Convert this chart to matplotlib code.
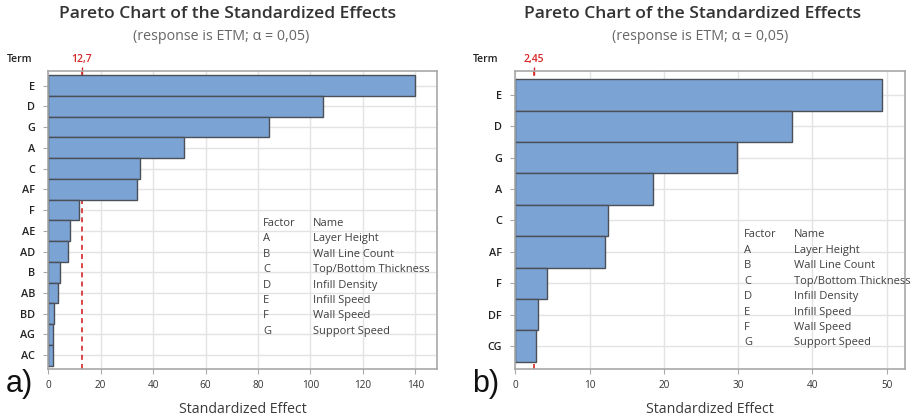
import matplotlib
matplotlib.use("Agg")
import matplotlib.pyplot as plt

plt.rcParams['font.family'] = ['Open Sans', 'DejaVu Sans']

# left chart: all effects
terms_a = ["E", "D", "G", "A", "C", "AF", "F", "AE", "AD", "B", "AB", "BD", "AG", "AC"]
effects_a = [140.0, 105.0, 84.2, 51.9, 35.1, 33.7, 11.8, 8.3, 7.4, 4.5, 3.6, 2.1, 1.7, 1.8]
limit_a = 12.7
limit_a_label = "12,7"

# right chart: reduced model
terms_b = ["E", "D", "G", "A", "C", "AF", "F", "DF", "CG"]
effects_b = [49.4, 37.2, 29.8, 18.5, 12.5, 12.1, 4.2, 3.0, 2.75]
limit_b = 2.45
limit_b_label = "2,45"

factors = ["A", "B", "C", "D", "E", "F", "G"]
factor_names = ["Layer Height", "Wall Line Count", "Top/Bottom Thickness",
                "Infill Density", "Infill Speed", "Wall Speed", "Support Speed"]

title = "Pareto Chart of the Standardized Effects"
subtitle = "(response is ETM; \u03b1 = 0,05)"

W, H = 916, 418
BAR = "#7ba3d4"
EDGE = "#4b4f57"
GRID = "#e3e3e3"
SPINE = "#a8a8a8"
RED = "#d62728"
LEG = 8.0

fig = plt.figure(figsize=(W / 100, H / 100), dpi=100)


def px_axes(x0, x1, y0, y1):
    return fig.add_axes([x0 / W, 1 - y1 / H, (x1 - x0) / W, (y1 - y0) / H])


def pareto(ax, terms, effects, limit, limit_label, xmax, xticks, pad_top, pad_bot,
           leg_x, leg_y):
    n = len(terms)
    pos = list(range(n))
    ax.axvline(limit, color=RED, lw=1.2, ls=(0, (3, 2.5)), zorder=1)
    ax.barh(pos, effects, height=1.0, color=BAR, edgecolor=EDGE, lw=1.0, zorder=2)
    ax.set_xlim(0, xmax)
    ax.set_ylim(n - 1 + pad_bot, -pad_top)
    ax.set_yticks(pos)
    ax.set_yticklabels(terms, fontsize=7.8, color="#222", fontweight="semibold")
    ax.set_xticks(xticks)
    ax.set_xticklabels([str(t) for t in xticks], fontsize=7.2, color="#333")
    ax.grid(True, color=GRID, lw=1.0, zorder=0)
    ax.set_axisbelow(True)
    for s in ax.spines.values():
        s.set_color(SPINE)
        s.set_linewidth(1.2)
    ax.tick_params(axis="both", direction="out", length=3.5, color=SPINE, width=0.8)
    ax.tick_params(axis="x", pad=4)
    ax.tick_params(axis="y", pad=6)
    ax.set_xlabel("Standardized Effect", fontsize=10.2, color="#3a3a3a", labelpad=8)

    top = ax.secondary_xaxis("top")
    top.set_xticks([limit])
    top.set_xticklabels([limit_label], fontsize=7.5, color=RED, fontweight="semibold")
    top.tick_params(direction="inout", length=6, color=RED, width=1.0, pad=1)
    top.spines["top"].set_visible(False)

    ax.text(leg_x[0], leg_y, "Factor", transform=ax.transAxes, fontsize=LEG,
            color="#404040", va="center")
    ax.text(leg_x[1], leg_y, "Name", transform=ax.transAxes, fontsize=LEG,
            color="#404040", va="center")
    step = 0.0517
    for i, (f, name) in enumerate(zip(factors, factor_names)):
        y = leg_y - step * (i + 1)
        ax.text(leg_x[0], y, f, transform=ax.transAxes, fontsize=LEG,
                color="#404040", va="center")
        ax.text(leg_x[1], y, name, transform=ax.transAxes, fontsize=LEG,
                color="#404040", va="center")


ax_a = px_axes(48.3, 436.7, 70.7, 369.3)
pareto(ax_a, terms_a, effects_a, limit_a, limit_a_label, 148.2,
       [0, 20, 40, 60, 80, 100, 120, 140], 0.72, 0.68, (0.553, 0.681), 0.489)

ax_b = px_axes(515.3, 905.3, 70.7, 369.3)
pareto(ax_b, terms_b, effects_b, limit_b, limit_b_label, 52.5,
       [0, 10, 20, 30, 40, 50], 0.77, 0.74, (0.587, 0.715), 0.45)

# titles and panel labels
for cx, scx, tx in [(228, 221, 19.5), (693, 700, 486)]:
    fig.text(cx / W, 1 - 14 / H, title, ha="center", va="center",
             fontsize=12.6, color="#333", fontweight="semibold")
    fig.text(scx / W, 1 - 36 / H, subtitle, ha="center", va="center",
             fontsize=10.3, color="#666")
    fig.text(tx / W, 1 - 60 / H, "Term", ha="center", va="center",
             fontsize=7.5, color="#222", fontweight="semibold")

for lx, lab in [(19, "a)"), (486, "b)")]:
    fig.text(lx / W, 1 - 384 / H, lab, ha="center", va="center", fontsize=22,
             color="#111", family=["Liberation Sans", "DejaVu Sans"])

fig.savefig("out.png", dpi=100, facecolor="white")
